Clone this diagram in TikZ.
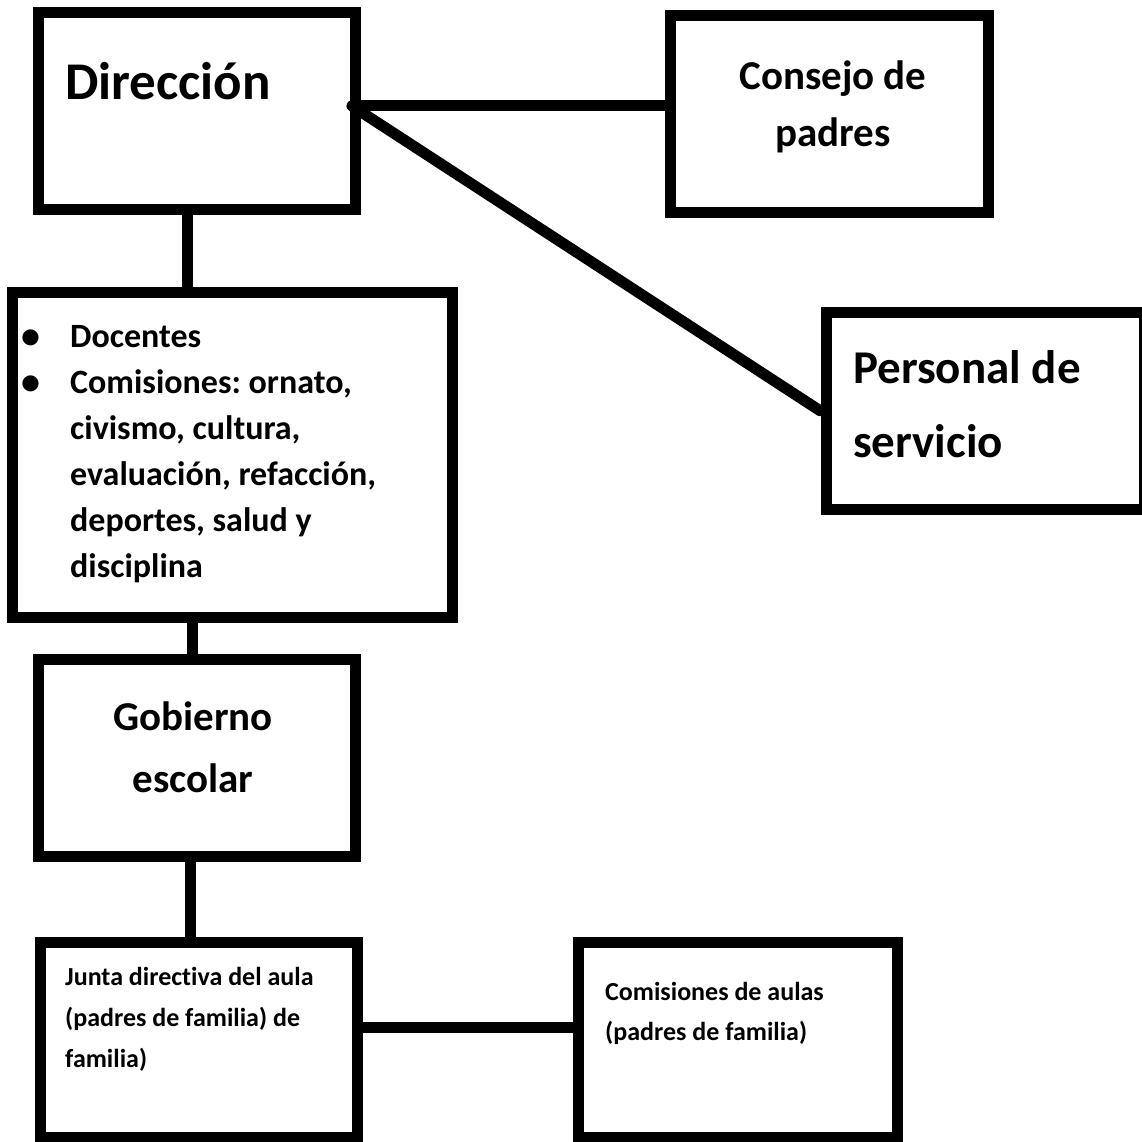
\documentclass[tikz,border=0pt]{standalone}
\usepackage{fontspec}
\setmainfont{Carlito}[Ligatures=NoCommon]
\frenchspacing

\newcommand{\bul}{\makebox[47pt][l]{\hspace*{-2pt}\fontsize{38}{46}\selectfont\raisebox{-1pt}{•}}}

\begin{document}
\begin{tikzpicture}[x=1pt, y=-1pt,
        box/.style={rectangle, draw=black, line width=11pt, inner sep=0pt},
        txt/.style={inner sep=0pt, align=left},
        link/.style={line width=11pt, line cap=round}
    ]
        \useasboundingbox (0,0) rectangle (1141,1142);

        % Boxes
        \node[box, minimum width=317pt, minimum height=197pt] (dir) at (197,111) {};
        \node[box, minimum width=318pt, minimum height=197pt] (consejo) at (829.5,114) {};
        \node[box, minimum width=318pt, minimum height=197pt] (personal) at (985,411) {};
        \node[box, minimum width=440pt, minimum height=325pt] (doc) at (232.5,455) {};
        \node[box, minimum width=317pt, minimum height=197pt] (gob) at (197,758) {};
        \node[box, minimum width=317pt, minimum height=195pt] (junta) at (199,1040) {};
        \node[box, minimum width=319pt, minimum height=195pt] (aulas) at (738,1040) {};

        % Texts (base = last line)
        \node[txt, anchor=base west, font=\bfseries\fontsize{53}{60}\selectfont] (dirtxt) at (65,100) {Dirección};
        \node[txt, anchor=base, align=center, font=\bfseries\fontsize{41}{57}\selectfont] (contxt) at (833,147) {Consejo de\\padres};
        \node[txt, anchor=base west, font=\bfseries\fontsize{47}{74}\selectfont] (pertxt) at (853,457) {Personal de\\servicio};
        \node[txt, anchor=base west, font=\bfseries\fontsize{34}{46}\selectfont] (doctxt) at (23,577)
            {\bul Docentes\\\bul Comisiones: ornato,\\\hspace*{47pt}civismo, cultura,\\\hspace*{47pt}evaluación, refacción,\\\hspace*{47pt}deportes, salud y\\\hspace*{47pt}disciplina};
        \node[txt, anchor=base, align=center, font=\bfseries\fontsize{41}{62}\selectfont] (gobtxt) at (193,792) {Gobierno\\escolar};
        \node[txt, anchor=base west, font=\bfseries\fontsize{26}{41}\selectfont] (juntxt) at (65,1067) {Junta directiva del aula\\(padres de familia) de\\familia)};
        \node[txt, anchor=base west, font=\bfseries\fontsize{26}{40}\selectfont] (aultxt) at (605,1040) {Comisiones de aulas\\(padres de familia)};

        % Hub on the right side of Dirección
        \coordinate (hub) at (352,106);

        % Connectors
        \draw[link] (hub) -- (hub -| consejo.west);
        \draw[link] (hub) -- (personal.west);
        \draw[link] ([xshift=-10pt]dir.south) -- ([xshift=-10pt]dir.south |- doc.north);
        \draw[link] ([xshift=-5pt]gob.north |- doc.south) -- ([xshift=-5pt]gob.north);
        \draw[link] ([xshift=-7pt]gob.south) -- ([xshift=-7pt]gob.south |- junta.north);
        \draw[link] ([yshift=13pt]junta.east) -- ([yshift=13pt]junta.east -| aulas.west);
    \end{tikzpicture}
\end{document}
